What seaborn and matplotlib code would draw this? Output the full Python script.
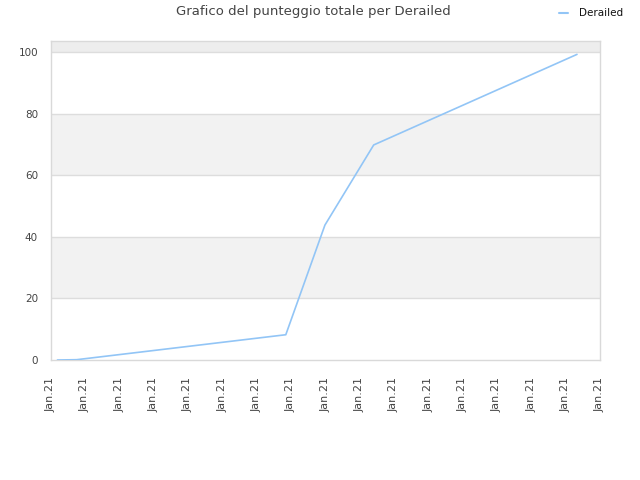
import matplotlib
matplotlib.use("Agg")
import matplotlib.pyplot as plt
import numpy as np
import pandas as pd
import seaborn as sns

# positions along the date axis (in tick units) and total score
x_pos = [0.2, 0.76, 6.85, 7.99, 9.41, 15.33]
score = [0.0, 0.1, 8.2, 43.8, 69.8, 99.2]
tick_labels = ["Jan.21"] * 17
y_ticks = [0, 20, 40, 60, 80, 100]
series_name = "Derailed"

df = pd.DataFrame({"x": x_pos, "Punteggio": score, "Team": series_name})

sns.set_style("white")
plt.rcParams['font.family'] = ['DejaVu Sans']

fig = plt.figure(figsize=(6.4, 4.8), dpi=100)
ax = fig.add_axes([0.079, 0.25, 0.8585, 0.6656])

# alternating bands
ax.axhspan(20, 40, color="#f2f2f2", zorder=0, lw=0)
ax.axhspan(60, 80, color="#f2f2f2", zorder=0, lw=0)
ax.axhspan(100, 104, color="#ededed", zorder=0, lw=0)
for yv in y_ticks[1:]:
    ax.axhline(yv, color="#dddddd", lw=1, zorder=1)

sns.lineplot(data=df, x="x", y="Punteggio", hue="Team", palette=["#92c5f6"],
             lw=1.2, ax=ax, zorder=3, legend=False)

ax.set_xlim(0, 16)
ax.set_ylim(0, 103.7)
ax.set_xticks(range(len(tick_labels)))
ax.set_xticklabels(tick_labels, rotation=90, fontsize=8, color="#444444")
ax.set_yticks(y_ticks)
ax.set_yticklabels([str(v) for v in y_ticks], fontsize=7.5, color="#444444")
ax.tick_params(axis="x", length=0, pad=12)
ax.tick_params(axis="y", length=0, pad=9)
ax.set_xlabel("")
ax.set_ylabel("")
for s in ax.spines.values():
    s.set_color("#d9d9d9")
    s.set_linewidth(1)

fig.text(0.49, 0.975, "Grafico del punteggio totale per Derailed",
         ha="center", va="center", fontsize=9.5, color="#444444")
fig.lines.append(plt.Line2D([0.874, 0.888], [0.972, 0.972], color="#92c5f6",
                            lw=1.5, transform=fig.transFigure))
fig.text(0.905, 0.972, series_name, ha="left", va="center", fontsize=7.5,
         color="#111111")

fig.savefig("out.png", dpi=100)
